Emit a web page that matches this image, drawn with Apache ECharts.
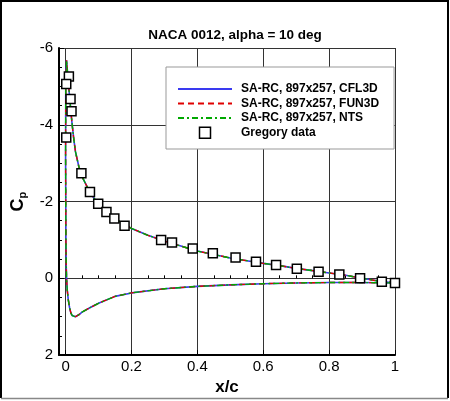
<!DOCTYPE html>
<html>
<head>
<meta charset="utf-8">
<script src="https://cdn.jsdelivr.net/npm/echarts@6/dist/echarts.min.js"></script>
<style>
  html, body { margin: 0; padding: 0; background: #fff; }
  #chart { width: 450px; height: 401px; }
</style>
</head>
<body>
<div id="chart"></div>
<script>
/* NACA 0012 Cp plot, alpha = 10 deg */

// surface, upper TE -> LE -> lower TE
const surfX = [1.0, 0.95, 0.9, 0.85, 0.8, 0.75, 0.7, 0.65, 0.6, 0.55, 0.5, 0.45, 0.4, 0.35, 0.3, 0.25, 0.2, 0.15, 0.125, 0.1, 0.075, 0.05, 0.04, 0.03, 0.025, 0.02, 0.016, 0.012, 0.008, 0.005, 0.003, 0.0015, 0.0005, 0.0,
  0.001, 0.002, 0.003, 0.005, 0.008, 0.012, 0.016, 0.02, 0.025, 0.03, 0.04, 0.05, 0.075, 0.1, 0.15, 0.2, 0.3, 0.4, 0.5, 0.6, 0.7, 0.8, 0.9, 1.0];
const cpCFL3D = [0.12, 0.07, 0.0, -0.08, -0.14, -0.2, -0.26, -0.33, -0.39, -0.46, -0.53, -0.62, -0.71, -0.84, -0.97, -1.12, -1.3, -1.55, -1.72, -1.93, -2.22, -2.65, -2.92, -3.3, -3.62, -4.0, -4.35, -4.75, -5.15, -5.45, -5.68, -5.72, -5.0, -3.2,
  -1.0, -0.3, 0.0, 0.3, 0.55, 0.76, 0.9, 0.97, 1.01, 1.0, 0.95, 0.88, 0.76, 0.65, 0.47, 0.38, 0.27, 0.21, 0.17, 0.14, 0.12, 0.11, 0.11, 0.12];
// FUN3D and NTS lie on top of CFL3D at this scale
const cpFUN3D = cpCFL3D;
const cpNTS = cpCFL3D;

const gregX = [0.002, 0.01, 0.002, 0.015, 0.018, 0.048, 0.074, 0.099, 0.124, 0.148, 0.179, 0.29, 0.323, 0.386, 0.447, 0.516, 0.578, 0.639, 0.702, 0.768, 0.831, 0.894, 0.96, 1.0];
const gregCp = [-3.67, -5.26, -5.06, -4.67, -4.35, -2.74, -2.25, -1.94, -1.73, -1.56, -1.37, -1.0, -0.93, -0.78, -0.65, -0.54, -0.43, -0.35, -0.25, -0.17, -0.1, 0.0, 0.09, 0.12];

const xTicks = [0, 0.2, 0.4, 0.6, 0.8, 1];
const xMinorTicks = [0.05, 0.1, 0.15, 0.25, 0.3, 0.35, 0.45, 0.5, 0.55, 0.65, 0.7, 0.75, 0.85, 0.9, 0.95];

const FONT = '"Liberation Sans", Arial, Helvetica, sans-serif';
const zip = (xs, ys) => xs.map((x, i) => [x, ys[i]]);
const noSymbol = { opacity: 0 };

const chart = echarts.init(document.getElementById('chart'), null, { renderer: 'canvas' });

chart.setOption({
  backgroundColor: '#fff',
  animation: false,
  textStyle: { fontFamily: FONT },
  title: {
    text: 'NACA 0012, alpha = 10 deg',
    left: 230,
    top: 23,
    textAlign: 'center',
    textStyle: { fontFamily: FONT, fontSize: 13.5, fontWeight: 'bold', color: '#000' },
  },
  grid: { left: 59, right: 55, top: 48, bottom: 45 },
  legend: {
    orient: 'vertical',
    left: 166,
    top: 67,
    padding: [16, 15, 10, 11],
    itemWidth: 54,
    itemHeight: 11,
    itemGap: 2.5,
    backgroundColor: '#fff',
    borderColor: '#999',
    borderWidth: 1,
    borderRadius: 0,
    textStyle: { fontFamily: FONT, fontSize: 12, fontWeight: 'bold', color: '#000', padding: [0, 0, 0, 4] },
    data: [
      { name: 'SA-RC, 897x257, CFL3D', itemStyle: noSymbol },
      { name: 'SA-RC, 897x257, FUN3D', itemStyle: noSymbol },
      { name: 'SA-RC, 897x257, NTS', itemStyle: noSymbol },
      { name: 'Gregory data', icon: 'path://M0 0H10V10H0Z', itemStyle: { color: '#fff', borderColor: '#000', borderWidth: 1.5 } },
    ],
  },
  xAxis: [
    {
      type: 'value',
      min: -0.02,
      max: 1,
      name: 'x/c',
      nameLocation: 'middle',
      nameGap: 19,
      nameTextStyle: { fontFamily: FONT, fontSize: 17, fontWeight: 'bold', color: '#000' },
      axisLine: { onZero: false, lineStyle: { color: '#000', width: 2 } },
      axisTick: { inside: true, length: 5, customValues: xTicks, lineStyle: { color: '#000', width: 1 } },
      axisLabel: { customValues: xTicks, margin: 4, fontSize: 15, color: '#000', fontFamily: FONT },
      splitLine: { show: true, lineStyle: { color: '#333', width: 1 } },
    },
    {
      type: 'value',
      min: -0.02,
      max: 1,
      position: 'bottom',
      axisLine: { show: false },
      axisTick: { inside: true, length: 3, customValues: xMinorTicks, lineStyle: { color: '#000', width: 1 } },
      axisLabel: { show: false },
      splitLine: { show: false },
    },
  ],
  yAxis: {
    type: 'value',
    inverse: true,
    min: -6,
    max: 2,
    interval: 2,
    name: 'C{sub|p}',
    nameLocation: 'middle',
    nameRotate: 90,
    nameGap: 31,
    nameTextStyle: {
      fontFamily: FONT, fontSize: 18, fontWeight: 'bold', color: '#000',
      rich: { sub: { fontFamily: FONT, fontSize: 11, fontWeight: 'bold', color: '#000', padding: [8, 0, 0, 0] } },
    },
    axisLine: { onZero: false, lineStyle: { color: '#000', width: 2 } },
    axisTick: { inside: true, length: 5, lineStyle: { color: '#000', width: 1 } },
    minorTick: { show: true, splitNumber: 4, length: 3, lineStyle: { color: '#000', width: 1 } },
    axisLabel: { margin: 6, fontSize: 15, color: '#000', fontFamily: FONT },
    splitLine: { show: true, lineStyle: { color: '#333', width: 1 } },
  },
  series: [
    {
      name: 'SA-RC, 897x257, CFL3D',
      type: 'line',
      data: zip(surfX, cpCFL3D),
      symbol: 'none',
      color: '#3a3af0',
      lineStyle: { width: 1.6, color: '#3a3af0' },
      z: 2,
    },
    {
      name: 'SA-RC, 897x257, FUN3D',
      type: 'line',
      data: zip(surfX, cpFUN3D),
      symbol: 'none',
      color: '#e00000',
      lineStyle: { width: 1.4, color: '#e00000', type: [6, 4] },
      z: 3,
    },
    {
      name: 'SA-RC, 897x257, NTS',
      type: 'line',
      data: zip(surfX, cpNTS),
      symbol: 'none',
      color: '#00a800',
      lineStyle: { width: 1.4, color: '#00a800', type: [6, 3, 2, 3] },
      z: 4,
    },
    {
      name: 'Gregory data',
      type: 'scatter',
      data: zip(gregX, gregCp),
      symbol: 'rect',
      symbolSize: 9,
      itemStyle: { color: '#fff', borderColor: '#000', borderWidth: 1.5, opacity: 1 },
      z: 5,
    },
  ],
  graphic: [
    { type: 'polyline', shape: { points: [[1, 398], [1, 1], [448, 1], [448, 398]] }, style: { stroke: '#000', lineWidth: 2, fill: null }, silent: true },
    { type: 'line', shape: { x1: 1, y1: 398.5, x2: 448, y2: 398.5 }, style: { stroke: '#888', lineWidth: 1.5 }, silent: true },
  ],
});

window.addEventListener('resize', () => chart.resize());
</script>
</body>
</html>
